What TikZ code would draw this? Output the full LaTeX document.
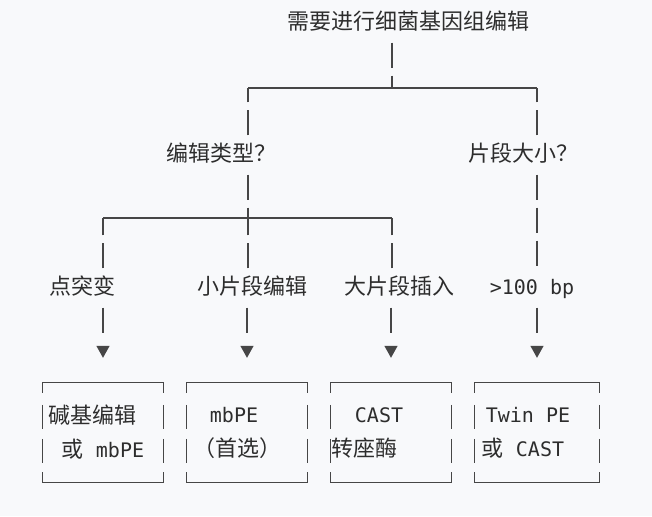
\documentclass[tikz,border=0pt]{standalone}
\usepackage{fontspec}
\setmainfont{DejaVu Sans Mono}
\newfontfamily\zh{Noto Sans CJK SC}[Scale=1.1]
\usetikzlibrary{arrows.meta}
\definecolor{bg}{RGB}{248,249,251}
\definecolor{ink}{RGB}{45,45,45}
\definecolor{ln}{RGB}{70,70,70}
\tikzset{
  lbl/.style={text=ink, inner xsep=0pt, inner ysep=9pt, text height=17pt, text depth=4pt},
  box/.style={text=ink, align=center, inner sep=0pt, minimum height=99pt},
  vline/.style={draw=ln, line width=1.4pt, dash pattern=on 25pt off 8pt},
  hline/.style={draw=ln, line width=1.2pt},
  down/.style={draw=ln, line width=1.4pt, dash pattern=on 25pt off 20pt,
    -{Triangle[width=13pt,length=12pt]}, shorten >=25pt},
  edge/.style={draw=ln, line width=1.2pt}
}

\begin{document}
\begin{tikzpicture}[x=1pt,y=-1pt,font=\fontsize{20}{34}\selectfont]
  \fill[bg] (0,0) rectangle (652,516);
  \useasboundingbox (0,0) rectangle (652,516);

  % question nodes
  \node[lbl] (need) at (408,23) {\zh 需要进行细菌基因组编辑};
  \node[lbl] (kind) at (221,155) {\zh 编辑类型？};
  \node[lbl] (size) at (523,155) {\zh 片段大小？};
  \coordinate (top) at (392,88);
  \coordinate (topl) at (248,88);
  \coordinate (topr) at (537,88);
  \coordinate (mid) at (248,218);
  \coordinate (midl) at (103,218);
  \coordinate (midr) at (392,218);

  % cases
  \node[lbl] (point) at (82,288) {\zh 点突变};
  \node[lbl] (small) at (252,288) {\zh 小片段编辑};
  \node[lbl] (large) at (399,288) {\zh 大片段插入};
  \node[lbl] (big) at (532,288) {>100 bp};

  % answers
  \node[box, minimum width=120pt] (base) at (103,432.5) {{\zh 碱基编辑}\kern21pt\\{\zh 或} mbPE};
  \node[box, minimum width=121pt] (mbpe) at (247,432.5) {mbPE\kern26pt\\{\zh （首选）}\kern20pt};
  \node[box, minimum width=120pt] (cast) at (391,432.5) {CAST\kern24pt\\{\zh 转座酶}\kern54pt};
  \node[box, minimum width=124pt] (twin) at (537,432.5) {Twin PE\kern18pt\\{\zh 或} CAST\kern28pt};

  \draw[vline] (need.south -| top) -- (top);
  \draw[hline] (topl) -- (topr);
  \draw[vline] (kind.north -| topl) -- (topl);
  \draw[vline] (size.north -| topr) -- (topr);
  \draw[vline] (kind.south -| mid) -- (mid);
  \draw[hline] (midl) -- (midr);
  \draw[vline] (point.north -| midl) -- (midl);
  \draw[vline] (small.north -| mid) -- (mid);
  \draw[vline] (large.north -| midr) -- (midr);
  \draw[vline] (size.south -| topr) -- (big.north -| topr);

  \draw[down] (point.south -| base) -- (base.north);
  \draw[down] (small.south -| mbpe) -- (mbpe.north);
  \draw[down] (large.south -| cast) -- (cast.north);
  \draw[down] (big.south -| twin) -- (twin.north);

  \foreach \b in {base,mbpe,cast,twin} {
    \draw[edge] ([yshift=-10pt]\b.north west) -- (\b.north west) -- (\b.north east) -- ([yshift=-10pt]\b.north east);
    \draw[edge] ([yshift=10pt]\b.south west) -- (\b.south west) -- (\b.south east) -- ([yshift=10pt]\b.south east);
    \draw[edge, dash pattern=on 0pt off 22pt on 24pt off 10pt on 24pt off 20pt] (\b.north west) -- (\b.south west);
    \draw[edge, dash pattern=on 0pt off 22pt on 24pt off 10pt on 24pt off 20pt] (\b.north east) -- (\b.south east);
  }
\end{tikzpicture}
\end{document}
